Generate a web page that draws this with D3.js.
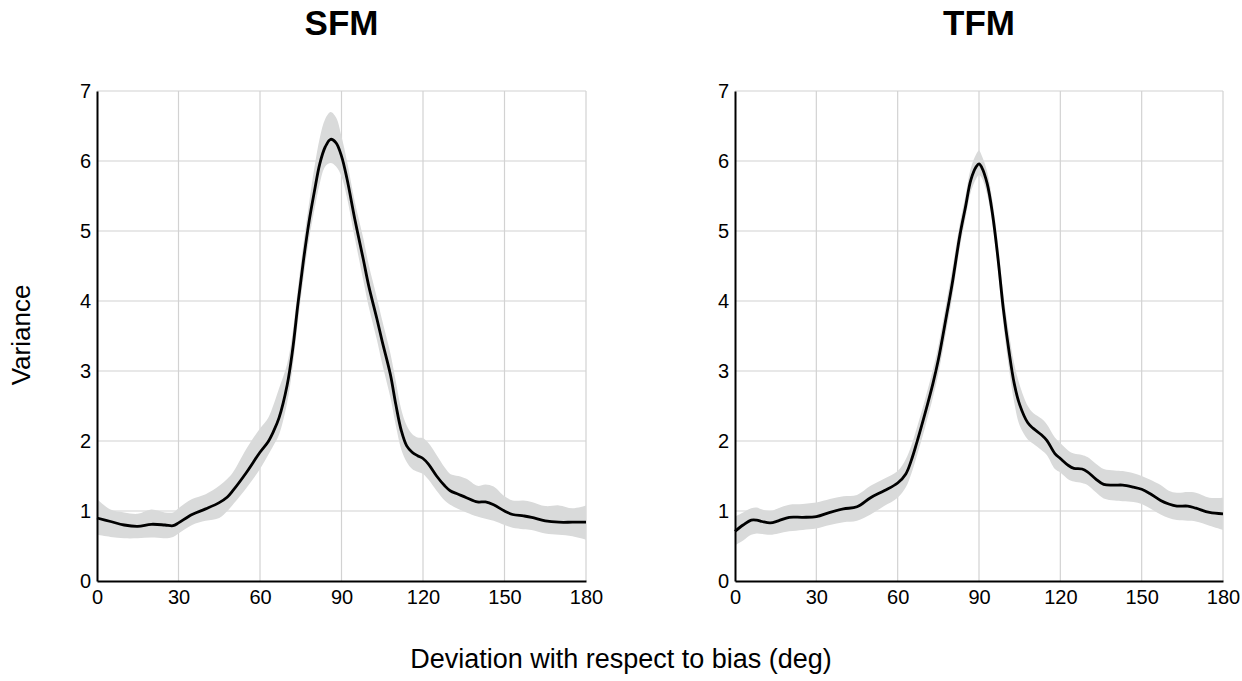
<!DOCTYPE html>
<html>
<head>
<meta charset="utf-8">
<script src="https://cdn.jsdelivr.net/npm/d3@7"></script>
<style>
html,body{margin:0;padding:0;background:#fff;}
svg{display:block;font-family:"Liberation Sans",Arial,sans-serif;}
</style>
</head>
<body>
<svg id="chart" width="1242" height="681"></svg>
<script>
// ---- data ----
const panelTitles = ["SFM", "TFM"];
const xTicks = [0, 30, 60, 90, 120, 150, 180];
const yTicks = [0, 1, 2, 3, 4, 5, 6, 7];
const xLabel = "Deviation with respect to bias (deg)";
const yLabel = "Variance";

const sfmX = [0,5,10,15,20,25,28,30,35,40,45,48,50,55,60,63,65,67,70,72,74,76,78,80,82,84,86,88,90,92,95,98,100,103,105,108,110,112,114,116,118,120,122,125,128,130,133,136,140,143,146,150,153,157,160,165,170,175,180];
const sfmMean = [0.90,0.85,0.80,0.78,0.81,0.80,0.79,0.83,0.95,1.03,1.12,1.20,1.29,1.55,1.84,1.99,2.14,2.33,2.80,3.30,3.97,4.58,5.12,5.56,5.96,6.20,6.31,6.26,6.07,5.75,5.15,4.60,4.22,3.75,3.42,2.95,2.52,2.15,1.93,1.84,1.79,1.75,1.67,1.50,1.36,1.29,1.24,1.19,1.13,1.13,1.09,1.00,0.95,0.93,0.91,0.86,0.84,0.84,0.84];
const sfmUpper = [1.17,1.02,0.98,0.96,1.02,0.98,0.98,1.04,1.17,1.24,1.36,1.46,1.55,1.89,2.18,2.33,2.52,2.75,3.10,3.55,4.20,4.83,5.38,5.90,6.33,6.60,6.70,6.62,6.35,6.00,5.40,4.90,4.52,4.05,3.72,3.25,2.85,2.45,2.22,2.10,2.05,2.04,1.97,1.80,1.62,1.53,1.50,1.46,1.36,1.38,1.35,1.21,1.15,1.15,1.13,1.07,1.08,1.04,1.08];
const sfmLower = [0.66,0.63,0.61,0.61,0.62,0.61,0.63,0.68,0.80,0.86,0.90,1.00,1.09,1.33,1.60,1.80,1.94,2.09,2.55,3.05,3.72,4.33,4.87,5.30,5.68,5.92,5.97,5.92,5.78,5.48,4.88,4.30,3.92,3.45,3.10,2.62,2.22,1.88,1.70,1.60,1.56,1.53,1.45,1.29,1.15,1.09,1.03,0.98,0.92,0.89,0.86,0.80,0.76,0.74,0.73,0.68,0.66,0.64,0.59];

const tfmX = [0,3,6,8,10,13,16,20,25,30,35,40,45,50,55,60,63,65,67,70,73,75,78,80,83,85,87,89,90,91,93,95,97,99,101,103,105,108,110,113,115,118,120,123,125,128,130,133,136,140,143,147,150,153,157,160,163,167,170,175,180];
const tfmMean = [0.71,0.80,0.87,0.87,0.85,0.83,0.86,0.91,0.91,0.92,0.98,1.03,1.06,1.19,1.29,1.40,1.53,1.72,1.97,2.38,2.82,3.16,3.79,4.22,4.95,5.34,5.73,5.92,5.96,5.91,5.68,5.24,4.61,3.88,3.30,2.82,2.52,2.26,2.18,2.09,2.01,1.82,1.75,1.65,1.61,1.60,1.56,1.46,1.38,1.37,1.37,1.34,1.31,1.25,1.15,1.10,1.07,1.07,1.04,0.98,0.96];
const tfmUpper = [0.92,0.98,1.04,1.05,1.02,1.00,1.04,1.09,1.10,1.12,1.17,1.21,1.23,1.36,1.46,1.57,1.74,1.93,2.18,2.58,3.02,3.36,3.99,4.42,5.12,5.50,5.90,6.10,6.15,6.08,5.85,5.42,4.82,4.10,3.55,3.10,2.80,2.50,2.40,2.32,2.24,2.05,1.97,1.86,1.82,1.80,1.77,1.68,1.60,1.58,1.57,1.54,1.50,1.45,1.37,1.29,1.26,1.27,1.26,1.19,1.19];
const tfmLower = [0.51,0.58,0.66,0.68,0.67,0.66,0.68,0.71,0.73,0.75,0.80,0.84,0.86,0.95,1.07,1.19,1.34,1.53,1.78,2.18,2.62,2.96,3.59,4.02,4.78,5.18,5.56,5.75,5.80,5.76,5.52,5.08,4.42,3.66,3.05,2.55,2.22,2.02,1.96,1.87,1.80,1.60,1.55,1.45,1.42,1.40,1.37,1.27,1.18,1.15,1.14,1.13,1.10,1.04,0.95,0.90,0.87,0.86,0.85,0.79,0.73];

// ---- layout ----
const svg = d3.select("#chart");
const plotTop = 91, plotBottom = 581;
const panels = [
  {title: panelTitles[0], left: 97, right: 586, xs: sfmX, mean: sfmMean, upper: sfmUpper, lower: sfmLower},
  {title: panelTitles[1], left: 735, right: 1223, xs: tfmX, mean: tfmMean, upper: tfmUpper, lower: tfmLower}
];

const y = d3.scaleLinear().domain([0, 7]).range([plotBottom, plotTop]);
const fmt = d3.format("d");

panels.forEach(p => {
  const x = d3.scaleLinear().domain([0, 180]).range([p.left, p.right]);
  const g = svg.append("g");

  // gridlines
  g.append("g").selectAll("line").data(yTicks.filter(d => d > 0)).join("line")
    .attr("x1", p.left).attr("x2", p.right)
    .attr("y1", d => y(d)).attr("y2", d => y(d))
    .attr("stroke", "#d2d2d2").attr("stroke-width", 1.2);
  g.append("g").selectAll("line").data(xTicks.filter(d => d > 0)).join("line")
    .attr("y1", plotTop).attr("y2", plotBottom)
    .attr("x1", d => x(d)).attr("x2", d => x(d))
    .attr("stroke", "#d2d2d2").attr("stroke-width", 1.2);

  const pts = p.xs.map((d, i) => ({x: d, m: p.mean[i], u: p.upper[i], l: p.lower[i]}));

  // band
  g.append("path").datum(pts)
    .attr("d", d3.area().curve(d3.curveCatmullRom.alpha(0.5))
      .x(d => x(d.x)).y0(d => y(d.l)).y1(d => y(d.u)))
    .attr("fill", "#d9dada");

  // mean line
  g.append("path").datum(pts)
    .attr("d", d3.line().curve(d3.curveCatmullRom.alpha(0.5))
      .x(d => x(d.x)).y(d => y(d.m)))
    .attr("fill", "none").attr("stroke", "#000").attr("stroke-width", 2.8)
    .attr("stroke-linejoin", "round");

  // axes
  const xAxis = g.append("g").attr("transform", `translate(0,${plotBottom})`)
    .call(d3.axisBottom(x).tickValues(xTicks).tickFormat(fmt).tickSize(0).tickPadding(9));
  xAxis.attr("font-size", null).attr("font-family", null);
  xAxis.select(".domain").attr("stroke", "#000").attr("stroke-width", 2);
  xAxis.selectAll("text").style("font-size", "20px").attr("fill", "#000");

  const yAxis = g.append("g").attr("transform", `translate(${p.left},0)`)
    .call(d3.axisLeft(y).tickValues(yTicks).tickFormat(fmt).tickSize(0).tickPadding(6));
  yAxis.attr("font-size", null).attr("font-family", null);
  yAxis.select(".domain").attr("stroke", "#000").attr("stroke-width", 2);
  yAxis.selectAll("text").style("font-size", "20px").attr("fill", "#000");

  // title
  svg.append("text")
    .attr("x", (p.left + p.right) / 2).attr("y", 35)
    .attr("text-anchor", "middle")
    .style("font-size", "35px").attr("font-weight", "bold")
    .text(p.title);
});

// shared labels
svg.append("text")
  .attr("x", 621).attr("y", 668)
  .attr("text-anchor", "middle")
  .style("font-size", "27px")
  .text(xLabel);

svg.append("text")
  .attr("transform", "translate(30,335) rotate(-90)")
  .attr("text-anchor", "middle")
  .style("font-size", "26px")
  .text(yLabel);
</script>
</body>
</html>
